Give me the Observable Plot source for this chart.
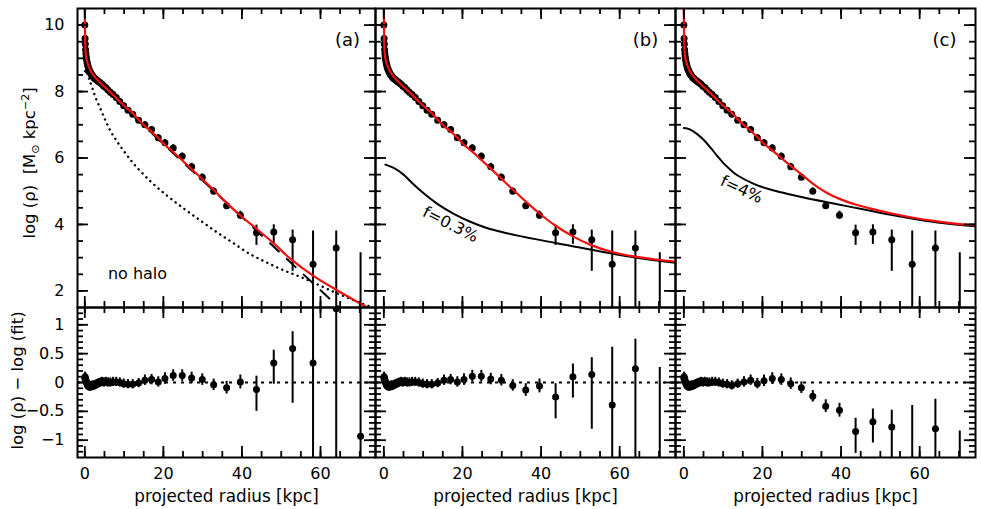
<!DOCTYPE html>
<html><head><meta charset="utf-8">
<script src="https://cdn.jsdelivr.net/npm/d3@7"></script>
<script src="https://cdn.jsdelivr.net/npm/@observablehq/plot@0.6"></script>
<style>
body{margin:0;background:#fff;}
#chart{position:relative;width:981px;height:509px;overflow:hidden;}
#chart svg{position:absolute;}
</style></head><body><div id="chart"></div>
<script>
// ---------- data ----------
const radius = [0, 0.07, 0.13, 0.2, 0.28, 0.36, 0.45, 0.55, 0.65, 0.76, 0.88, 1.0, 1.15, 1.3, 1.45, 1.6, 1.8, 2.0, 2.2, 2.45, 2.7, 3.0, 3.3, 3.65, 4.0, 4.4, 4.85, 5.35, 5.9, 6.5, 7.2, 8.0, 8.9, 9.9, 11.0, 12.2, 13.7, 15.3, 17.0, 18.7, 20.4, 22.5, 24.8, 27.2, 29.9, 32.8, 36.1, 39.6, 43.7, 48.1, 52.9, 58.1, 64.0, 70.2];
const logRho = [10.0, 9.6, 9.43, 9.26, 9.14, 9.04, 8.97, 8.9, 8.84, 8.79, 8.73, 8.68, 8.65, 8.6, 8.57, 8.53, 8.5, 8.47, 8.43, 8.4, 8.38, 8.35, 8.32, 8.29, 8.26, 8.22, 8.16, 8.12, 8.05, 7.98, 7.91, 7.82, 7.7, 7.57, 7.44, 7.32, 7.14, 7.0, 6.86, 6.61, 6.46, 6.3, 6.05, 5.74, 5.42, 5.0, 4.56, 4.28, 3.75, 3.77, 3.54, 2.8, 3.29, 0.69];
const errUp = [0.08, 0.08, 0.08, 0.08, 0.08, 0.08, 0.08, 0.08, 0.08, 0.08, 0.08, 0.08, 0.08, 0.08, 0.08, 0.08, 0.08, 0.08, 0.08, 0.08, 0.08, 0.08, 0.08, 0.08, 0.08, 0.08, 0.08, 0.08, 0.08, 0.08, 0.08, 0.08, 0.08, 0.08, 0.08, 0.08, 0.08, 0.09, 0.09, 0.09, 0.1, 0.1, 0.1, 0.1, 0.1, 0.1, 0.11, 0.12, 0.23, 0.22, 0.29, 1.0, 0.51, 2.46];
const errDn = [0.08, 0.08, 0.08, 0.08, 0.08, 0.08, 0.08, 0.08, 0.08, 0.08, 0.08, 0.08, 0.08, 0.08, 0.08, 0.08, 0.08, 0.08, 0.08, 0.08, 0.08, 0.08, 0.08, 0.08, 0.08, 0.08, 0.08, 0.08, 0.08, 0.08, 0.08, 0.08, 0.08, 0.08, 0.08, 0.08, 0.08, 0.09, 0.09, 0.09, 0.1, 0.1, 0.1, 0.1, 0.1, 0.1, 0.11, 0.12, 0.38, 0.37, 0.95, 9, 9, 9];
// residuals log(rho) - log(fit): inner points (r <= 11 kpc) look alike in all three fits
const residInner = [0.08, 0.1, 0.08, 0.06, 0.04, 0.02, 0.0, -0.02, -0.04, -0.05, -0.06, -0.07, -0.06, -0.07, -0.06, -0.07, -0.06, -0.05, -0.06, -0.05, -0.04, -0.03, -0.02, -0.01, 0.0, 0.01, 0.0, 0.01, 0.0, 0.0, 0.01, 0.01, 0.0, -0.02, -0.03];
const residOuterA = [-0.03, -0.01, 0.04, 0.05, 0.01, 0.07, 0.12, 0.12, 0.08, 0.05, -0.04, -0.09, 0.01, -0.12, 0.34, 0.59, 0.34, 1.28, -0.93];
const residOuterB = [-0.03, -0.01, 0.04, 0.05, 0.01, 0.05, 0.11, 0.11, 0.06, 0.04, -0.05, -0.13, -0.06, -0.25, 0.10, 0.14, -0.39, 0.24, -2.2];
const residOuterC = [-0.05, -0.02, 0.01, 0.04, -0.02, 0.03, 0.07, 0.05, -0.02, -0.09, -0.24, -0.41, -0.48, -0.85, -0.68, -0.77, -1.4, -0.80, -3.3];

// fitted profiles (red) [r, log rho]
const fitA = [[0, 11], [0.03, 10.1], [0.07, 9.6], [0.13, 9.35], [0.2, 9.2], [0.3, 9.07], [0.45, 8.97], [0.65, 8.88], [0.88, 8.79], [1.15, 8.71], [1.45, 8.63], [1.8, 8.56], [2.2, 8.49], [2.7, 8.42], [3.3, 8.34], [4.0, 8.26], [4.85, 8.16], [5.9, 8.05], [7.2, 7.9], [8.9, 7.7], [11.0, 7.47], [12.2, 7.35], [13.7, 7.15], [15.3, 6.96], [17.0, 6.79], [18.7, 6.6], [20.4, 6.39], [22.5, 6.18], [24.8, 5.93], [27.2, 5.66], [29.9, 5.37], [32.8, 5.04], [36.1, 4.65], [39.6, 4.27], [43.7, 3.87], [48.1, 3.43], [52.3, 2.97], [58.1, 2.46], [64.2, 2.02], [71.9, 1.5], [74.5, 1.33]];
const fitB = [[0, 11], [0.03, 10.1], [0.07, 9.6], [0.13, 9.35], [0.2, 9.2], [0.3, 9.07], [0.45, 8.97], [0.65, 8.88], [0.88, 8.79], [1.15, 8.71], [1.45, 8.63], [1.8, 8.56], [2.2, 8.49], [2.7, 8.42], [3.3, 8.34], [4.0, 8.26], [4.85, 8.16], [5.9, 8.05], [7.2, 7.9], [8.9, 7.7], [11.0, 7.47], [12.2, 7.35], [13.7, 7.15], [15.3, 6.96], [17.0, 6.8], [18.7, 6.61], [20.4, 6.4], [22.5, 6.19], [24.8, 5.94], [27.2, 5.68], [29.9, 5.38], [32.8, 5.05], [36.1, 4.69], [39.6, 4.33], [43.7, 3.96], [48.1, 3.64], [52.9, 3.37], [58.1, 3.17], [64.0, 3.03], [70.2, 2.93], [74.5, 2.88]];
const fitC = [[0, 11], [0.03, 10.1], [0.07, 9.6], [0.13, 9.35], [0.2, 9.2], [0.3, 9.07], [0.45, 8.97], [0.65, 8.88], [0.88, 8.79], [1.15, 8.71], [1.45, 8.63], [1.8, 8.56], [2.2, 8.49], [2.7, 8.42], [3.3, 8.34], [4.0, 8.26], [4.85, 8.16], [5.9, 8.05], [7.2, 7.9], [8.9, 7.7], [11.0, 7.47], [12.2, 7.36], [13.7, 7.17], [15.3, 6.99], [17.0, 6.82], [18.7, 6.63], [20.4, 6.43], [22.5, 6.23], [24.8, 6.0], [27.2, 5.76], [29.9, 5.51], [32.8, 5.23], [36.1, 4.97], [39.6, 4.77], [43.7, 4.6], [48.1, 4.46], [52.9, 4.33], [58.1, 4.21], [64.0, 4.1], [70.2, 4.01], [74.5, 3.97]];
// components
const diskA = [[0, 8.62], [70, 0.92]];                      // dashed
const bulgeA = [[0.6, 8.55], [1.1, 8.38], [2.0, 8.08], [2.8, 7.8], [4.1, 7.45], [5.3, 7.12], [6.6, 6.8], [8.2, 6.5], [10, 6.2], [12.5, 5.82], [16.7, 5.3], [21, 4.86], [25.2, 4.48], [29.4, 4.12], [33.7, 3.76], [37.9, 3.43], [42.2, 3.1], [46.4, 2.85], [50.6, 2.62], [54.9, 2.42], [59.1, 2.2], [63.4, 1.97], [67.6, 1.76], [71, 1.6], [74.5, 1.45]]; // dotted
const haloB = [[0.4, 5.8], [2.5, 5.7], [5.0, 5.5], [7.0, 5.27], [9.3, 5.02], [13.6, 4.62], [17.8, 4.32], [22.0, 4.08], [26.0, 3.9], [30.5, 3.76], [38.9, 3.55], [47.4, 3.36], [55.8, 3.17], [64.3, 3.0], [74.5, 2.84]];
const haloC = [[0, 6.9], [1.5, 6.86], [3.4, 6.72], [5.0, 6.55], [6.8, 6.31], [8.5, 6.06], [10.2, 5.83], [12, 5.63], [13.6, 5.48], [17.8, 5.22], [22.0, 5.05], [30.5, 4.81], [39.0, 4.61], [47.5, 4.41], [56.0, 4.22], [64.5, 4.06], [74.5, 3.94]];

// ticks and labels
const xMajor = [0, 20, 40, 60];
const xMinor = [0, 5, 10, 15, 20, 25, 30, 35, 40, 45, 50, 55, 60, 65, 70];
const yTopMajor = [2, 4, 6, 8, 10];
const yTopMinor = [2, 2.5, 3, 3.5, 4, 4.5, 5, 5.5, 6, 6.5, 7, 7.5, 8, 8.5, 9, 9.5, 10];
const yBotMajor = [-1, -0.5, 0, 0.5, 1];
const yBotMinor = [-1.2, -1.1, -1, -0.9, -0.8, -0.7, -0.6, -0.5, -0.4, -0.3, -0.2, -0.1, 0, 0.1, 0.2, 0.3, 0.4, 0.5, 0.6, 0.7, 0.8, 0.9, 1, 1.1, 1.2];
const panelTags = ["(a)", "(b)", "(c)"];
const curveLabels = ["no halo", "f=0.3%", "f=4%"];
const xTitle = "projected radius [kpc]";
const yTitleTop = "log (ρ)  [M⊙ kpc⁻²]";
const yTitleBot = "log (ρ) − log (fit)";

// ---------- build ----------
const residA = residInner.concat(residOuterA);
const residB = residInner.concat(residOuterB);
const residC = residInner.concat(residOuterC);
const points = radius.map((r, i) => ({r, v: logRho[i], up: errUp[i], dn: errDn[i], ra: residA[i], rb: residB[i], rc: residC[i]}));

const FONT = "'DejaVu Sans', sans-serif";
const RED = "#f01010";
const TOP = {y: 8, h: 299}, BOT = {y: 307, h: 150};
const COLS = [
  {left: 77, w: 298, xd: [-1.86, 74.0], res: "ra"},
  {left: 375, w: 300, xd: [-2.12, 74.2], res: "rb"},
  {left: 675, w: 300, xd: [-2.12, 74.2], res: "rc"}
];
const chart = document.getElementById("chart");
const fmt = d => d === 0 ? "0" : (d < 0 ? "\u2212" : "") + String(Math.abs(d));

function tickMarks(w, h, yMaj, yMin) {
  const sw = 1.8, L = 11, S = 6;
  return [
    Plot.tickX(xMinor, {x: d => d, insetTop: h - S, strokeWidth: sw}),
    Plot.tickX(xMinor, {x: d => d, insetBottom: h - S, strokeWidth: sw}),
    Plot.tickX(xMajor, {x: d => d, insetTop: h - L, strokeWidth: sw}),
    Plot.tickX(xMajor, {x: d => d, insetBottom: h - L, strokeWidth: sw}),
    Plot.tickY(yMin, {y: d => d, insetRight: w - S, strokeWidth: sw}),
    Plot.tickY(yMin, {y: d => d, insetLeft: w - S, strokeWidth: sw}),
    Plot.tickY(yMaj, {y: d => d, insetRight: w - L, strokeWidth: sw}),
    Plot.tickY(yMaj, {y: d => d, insetLeft: w - L, strokeWidth: sw})
  ];
}

function panel(ci, row, marks) {
  const col = COLS[ci];
  const first = ci === 0;
  const ml = first ? col.left : 2, mr = 6;
  const top = row === "top";
  const mt = top ? TOP.y : 2;
  const mb = top ? 2 : 509 - (BOT.y + BOT.h);
  const h = top ? TOP.h : BOT.h;
  const yMaj = top ? yTopMajor : yBotMajor, yMin = top ? yTopMinor : yBotMinor;
  const extra = [];
  if (first) extra.push(Plot.axisY(yMaj, {tickSize: 0, tickPadding: 13, fontSize: 16, label: null, tickFormat: fmt}));
  if (!top) extra.push(Plot.axisX(xMajor, {tickSize: 0, tickPadding: 10, fontSize: 16, label: null, tickFormat: fmt}));
  const svg = Plot.plot({
    width: ml + col.w + mr, height: mt + h + mb,
    marginLeft: ml, marginRight: mr, marginTop: mt, marginBottom: mb,
    x: {domain: col.xd, label: null, ...(top ? {axis: null} : {})},
    y: {domain: top ? [1.5, 10.5] : [-1.3, 1.3], label: null, ...(first ? {} : {axis: null})},
    style: {fontFamily: FONT, fontSize: "16px", background: "transparent", overflow: "visible", color: "black"},
    marks: [...marks, ...tickMarks(col.w, h, yMaj, yMin), Plot.frame({strokeWidth: 2}), ...extra]
  });
  svg.style.left = (first ? 0 : col.left - 2) + "px";
  svg.style.top = (top ? 0 : BOT.y - 2) + "px";
  chart.appendChild(svg);
  return svg;
}

function dataMarks(yAcc, lo, hi) {
  return [
    Plot.ruleX(points, {x: "r", y1: lo, y2: hi, strokeWidth: 2, clip: true}),
    Plot.dot(points, {x: "r", y: yAcc, r: 3.5, fill: "black", stroke: null, clip: true})
  ];
}
const curve = (arr, opts) => Plot.line(arr, {x: d => d[0], y: d => d[1], curve: "catmull-rom", clip: true, strokeWidth: 2, ...opts});

// top row
const tagText = (ci, dx) => Plot.text([panelTags[ci]], {frameAnchor: "top-right", dx, dy: 32, textAnchor: "middle", lineAnchor: "middle", fontSize: 18});
const topA = panel(0, "top", [
  ...dataMarks("v", d => d.v - d.dn, d => d.v + d.up),
  curve(bulgeA, {stroke: "black", strokeDasharray: "0.1,5.4", strokeLinecap: "round", strokeWidth: 2.4}),
  curve(diskA, {stroke: "black", strokeDasharray: "12,11", curve: "linear"}),
  curve(fitA, {stroke: RED, strokeWidth: 2.2}),
  tagText(0, -28),
  Plot.text([curveLabels[0]], {frameAnchor: "bottom-left", dx: 60, dy: -34, textAnchor: "middle", lineAnchor: "middle", fontSize: 16}),
  Plot.text([yTitleTop], {frameAnchor: "left", dx: -48, dy: 5, rotate: -90, textAnchor: "middle", lineAnchor: "middle", fontSize: 16.5})
]);
panel(1, "top", [
  ...dataMarks("v", d => d.v - d.dn, d => d.v + d.up),
  curve(haloB, {stroke: "black"}),
  curve(fitB, {stroke: RED, strokeWidth: 2.2}),
  tagText(1, -30),
  Plot.text([curveLabels[1]], {frameAnchor: "top-left", dx: 75, dy: 216, rotate: 27, textAnchor: "middle", lineAnchor: "middle", fontSize: 16})
]);
panel(2, "top", [
  ...dataMarks("v", d => d.v - d.dn, d => d.v + d.up),
  curve(haloC, {stroke: "black"}),
  curve(fitC, {stroke: RED, strokeWidth: 2.2}),
  tagText(2, -31),
  Plot.text([curveLabels[2]], {frameAnchor: "top-left", dx: 66, dy: 181, rotate: 25, textAnchor: "middle", lineAnchor: "middle", fontSize: 16})
]);

// bottom row
COLS.forEach((col, ci) => {
  const k = col.res;
  const marks = [
    Plot.ruleY([0], {strokeDasharray: "3,5", strokeWidth: 2}),
    ...dataMarks(k, d => d[k] - d.dn, d => d[k] + d.up),
    Plot.text([xTitle], {frameAnchor: "bottom", dy: 39, textAnchor: "middle", lineAnchor: "middle", fontSize: 16.8})
  ];
  if (ci === 0) marks.push(Plot.text([yTitleBot], {frameAnchor: "left", dx: -60, dy: -2, rotate: -90, textAnchor: "middle", lineAnchor: "middle", fontSize: 16.5}));
  panel(ci, "bottom", marks);
});

// subscript sun symbol in the y title
d3.select(topA).selectAll("text").each(function () {
  if (this.textContent === yTitleTop) {
    const t = d3.select(this);
    t.text(null);
    t.append("tspan").text("log (ρ)  [M");
    t.append("tspan").attr("dy", 4).attr("font-size", 11).text("⊙");
    t.append("tspan").attr("dy", -4).text(" kpc");
    t.append("tspan").attr("dy", -6).attr("font-size", 11).text("−2");
    t.append("tspan").attr("dy", 6).text("]");
  }
});
</script></body></html>
